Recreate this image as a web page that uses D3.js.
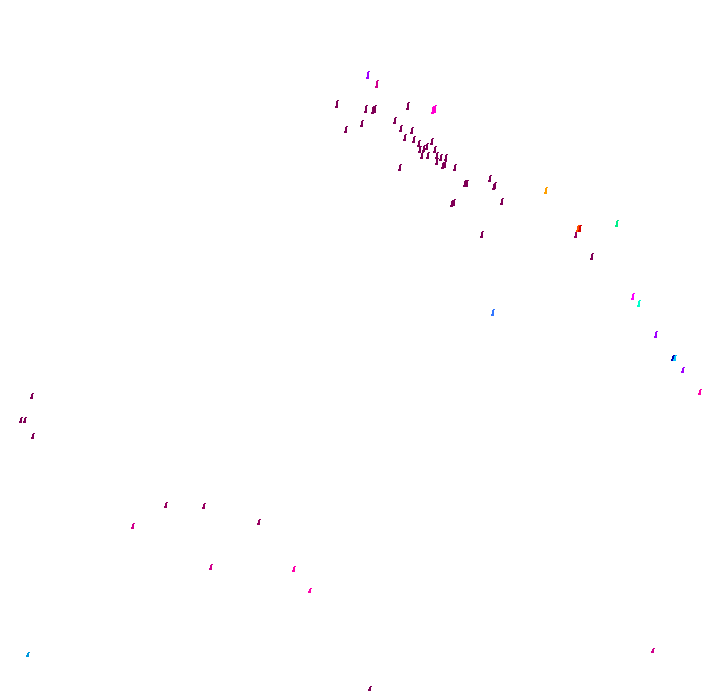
<!DOCTYPE html>
<html>
<head>
<meta charset="utf-8">
<script src="https://cdn.jsdelivr.net/npm/d3@7"></script>
<style>
  html, body { margin: 0; padding: 0; background: #fff; }
  svg { display: block; }
</style>
</head>
<body>
<svg id="chart" width="720" height="692"></svg>
<script>
// Data values (abstract units 0-100)
const xValues = [51.1,52.4,46.8,50.8,51.8,52.1,50.3,48.1,56.7,60.1,60.4,54.9,55.7,57.2,56.3,57.5,58.2,58.3,58.9,59.3,
  60.0,58.6,59.4,60.4,60.7,60.7,61.3,61.5,61.8,61.9,63.2,55.6,64.6,64.9,68.1,68.6,68.8,69.7,62.8,63.1,
  75.8,66.9,80.0,80.3,80.6,85.7,82.2,87.9,88.8,91.1,93.5,93.8,94.9,97.2,68.5,4.4,2.9,3.5,4.6,23.1,
  28.3,36.0,18.5,29.3,40.8,43.1,3.9,90.7,51.4];
const yValues = [89.2,87.9,85.0,84.2,84.1,84.2,82.1,81.2,84.7,84.1,84.2,82.5,81.4,81.1,80.1,79.8,79.2,78.3,78.5,78.8,
  79.5,77.5,77.5,78.3,77.5,76.6,77.2,76.0,76.2,77.2,75.7,75.7,73.4,73.4,74.1,73.0,73.1,70.8,70.5,70.6,
  72.4,66.0,66.0,66.9,66.9,67.6,62.9,57.1,56.1,51.6,48.3,48.3,46.5,43.4,54.8,42.8,39.3,39.3,37.0,27.0,
  26.9,24.6,24.0,18.1,17.8,14.6,5.3,5.9,0.4];
const groups = ["violet","rose","wine","wine","wine","wine","wine","wine","wine","pink","pink","wine","wine","wine","wine","wine","wine","wine","wine","wine",
  "wine","wine","wine","wine","wine","wine","wine","wine","wine","wine","wine","wine","wine","wine","wine","wine","wine","wine","wine","wine",
  "orange","wine","plum","orangered","red","spring","wine","magenta","aqua","violet","navy","sky","violet","hotpink","blue","wine","wine","wine","wine","plum",
  "plum","plum","rose","rose","hotpink","hotpink","teal","rose","wine"];

const groupNames = ["wine","plum","rose","pink","hotpink","magenta","violet","orange","orangered","red","spring","aqua","navy","sky","blue","teal"];
const groupColors = ["#800056","#980060","#d0008c","#ff00d0","#ff00aa","#ff00ff","#a000ff","#ffa000","#ff5000","#d80000","#00ee88","#00ffcc","#0000b0","#00c8ff","#3377ff","#0099dd"];

const W = 720, H = 692;
const x = d3.scaleLinear().domain([0, 100]).range([0, W]);
const y = d3.scaleLinear().domain([0, 100]).range([H, 0]);
const color = d3.scaleOrdinal().domain(groupNames).range(groupColors);
const hScale = d3.scaleLinear().domain([0, 100]).range([4, 7]);

const data = xValues.map((v, i) => ({ x: v, y: yValues[i], g: groups[i] }));

function markPath(h) {
  const t = -h / 2, b = h / 2;
  // body, top hook to the right, small foot to the left
  return `M0,${t}H2V${b}H0Z` +
         `M1,${t - 1}H3V${t}H1Z` +
         `M-1,${b - 2}H0V${b}H-1Z`;
}

const svg = d3.select("#chart");
svg.append("g")
  .selectAll("path")
  .data(data)
  .join("path")
  .attr("transform", d => `translate(${Math.round(x(d.x)) - 1},${Math.round(y(d.y))})`)
  .attr("d", d => markPath(Math.round(hScale(d.y))))
  .attr("fill", d => color(d.g))
  .attr("shape-rendering", "crispEdges");
</script>
</body>
</html>
